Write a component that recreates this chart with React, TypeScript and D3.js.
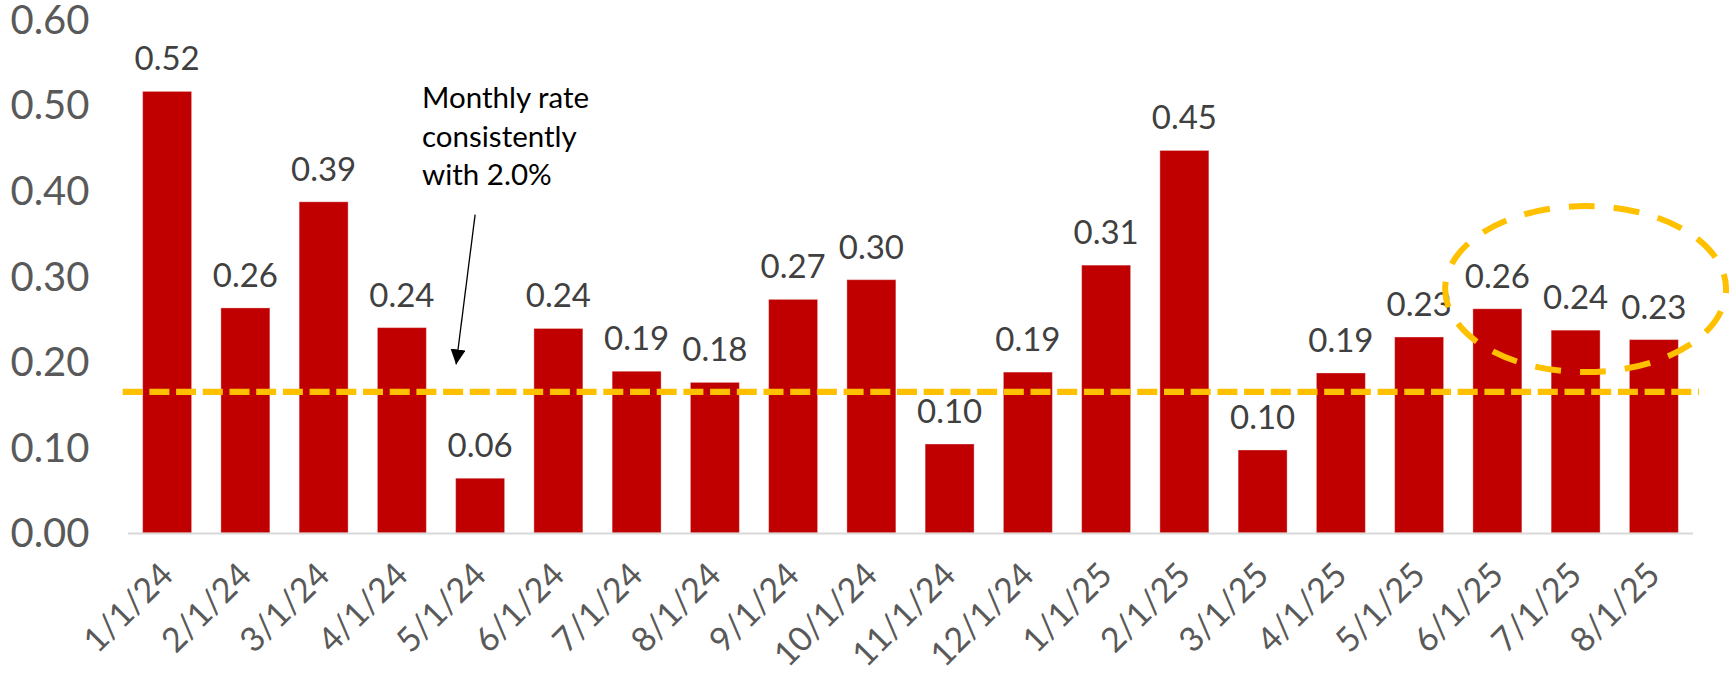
import React from 'react';
import * as d3 from 'd3';

// monthly core rate, %
const months = [
  '1/1/24', '2/1/24', '3/1/24', '4/1/24', '5/1/24', '6/1/24', '7/1/24', '8/1/24', '9/1/24', '10/1/24',
  '11/1/24', '12/1/24', '1/1/25', '2/1/25', '3/1/25', '4/1/25', '5/1/25', '6/1/25', '7/1/25', '8/1/25',
];
const rates = [
  0.516, 0.263, 0.387, 0.240, 0.064, 0.239, 0.189, 0.176, 0.273, 0.296,
  0.104, 0.188, 0.313, 0.447, 0.097, 0.187, 0.229, 0.262, 0.237, 0.226,
];
const yTicks = [0, 0.1, 0.2, 0.3, 0.4, 0.5, 0.6];
const target = 0.165; // monthly pace equal to 2.0% a year
const noteLines = ['Monthly rate', 'consistently', 'with 2.0%'];

const width = 1731;
const height = 675;
const margin = { top: 19.5, right: 38, bottom: 142, left: 128 };
const font = 'Lato, "Open Sans", sans-serif';

export default function App() {
  const x = d3.scaleBand<string>()
    .domain(months)
    .range([margin.left, width - margin.right])
    .paddingInner(0.374)
    .paddingOuter(0.187);

  const y = d3.scaleLinear()
    .domain([0, 0.6])
    .range([height - margin.bottom, margin.top]);

  const fmt = d3.format('.2f');
  const bw = x.bandwidth();
  const cx = (m: string) => (x(m) ?? 0) + bw / 2;

  // annotation placement, tied to the scales
  const arrowTip = { x: cx('5/1/24') - 24, y: y(0.197) };
  const arrowFrom = { x: arrowTip.x + 19, y: y(0.372) };
  const ring = { x: cx('7/1/25') + 10, y: y(0.285), rx: x.step() * 1.795, ry: y(0) - y(0.097) };

  return (
    <svg width={width} height={height}
      style={{ position: 'absolute', left: 0, top: 0, display: 'block', background: '#fff' }}>
      <defs>
        <marker id="head" viewBox="0 0 10 10" refX="10" refY="5"
          markerWidth="15" markerHeight="15" markerUnits="userSpaceOnUse" orient="auto">
          <path d="M0,0 L10,5 L0,10 z" fill="#000" />
        </marker>
      </defs>

      {/* y axis labels */}
      {yTicks.map(t => (
        <text key={t} x={89.5} y={y(t)} dy="0.36em" textAnchor="end"
          fontFamily={font} fontSize={40} fill="#595959">{fmt(t)}</text>
      ))}

      {/* bars */}
      {months.map((m, i) => (
        <rect key={m} x={x(m)} y={y(rates[i])} width={bw} height={y(0) - y(rates[i])}
          fill="#C00000" stroke="#fff" strokeOpacity={0.35} strokeWidth={1} />
      ))}

      {/* baseline */}
      <line x1={margin.left} x2={width - margin.right} y1={y(0) + 0.5} y2={y(0) + 0.5}
        stroke="#D9D9D9" strokeWidth={2} />

      {/* data labels */}
      {months.map((m, i) => (
        <text key={m} x={cx(m)} y={y(rates[i]) - 21} textAnchor="middle"
          fontFamily={font} fontSize={33} fill="#404040">{fmt(rates[i])}</text>
      ))}

      {/* x axis labels */}
      {months.map(m => (
        <text key={m} transform={`translate(${cx(m) + 8},${y(0) + 44}) rotate(-45)`}
          textAnchor="end" fontFamily={font} fontSize={34} fill="#595959">{m}</text>
      ))}

      {/* 2% line */}
      <line x1={122.7} x2={1699} y1={y(target)} y2={y(target)}
        stroke="#FFC000" strokeWidth={6.3} strokeDasharray="20 6.7" />

      {/* highlight ring */}
      <ellipse cx={ring.x} cy={ring.y} rx={ring.rx} ry={ring.ry} fill="none"
        stroke="#FFC000" strokeWidth={6} strokeDasharray="26 19" strokeDashoffset={22} />

      {/* note */}
      <line x1={arrowFrom.x} y1={arrowFrom.y} x2={arrowTip.x} y2={arrowTip.y}
        stroke="#000" strokeWidth={1.3} markerEnd="url(#head)" />
      {noteLines.map((s, i) => (
        <text key={s} x={422} y={108.3 + i * 38.4} fontFamily={font} fontSize={29.5} fill="#000">{s}</text>
      ))}
    </svg>
  );
}
